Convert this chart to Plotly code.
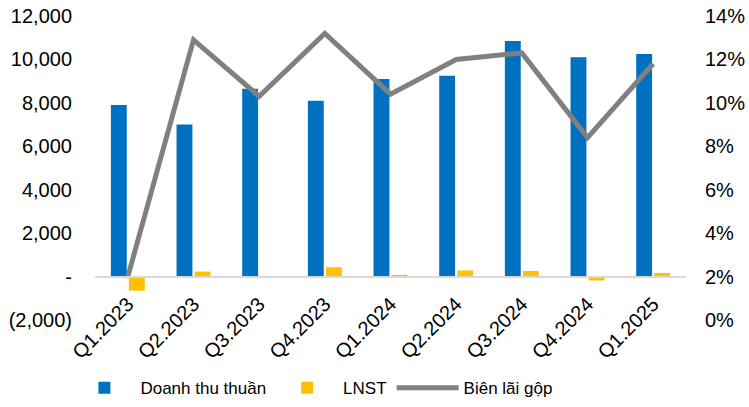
import plotly.graph_objects as go

quarters = ["Q1.2023", "Q2.2023", "Q3.2023", "Q4.2023", "Q1.2024",
            "Q2.2024", "Q3.2024", "Q4.2024", "Q1.2025"]
doanh_thu = [7900, 7000, 8650, 8100, 9100, 9250, 10850, 10100, 10250]
lnst = [-650, 230, 10, 430, 80, 280, 260, -180, 170]
bien_lai_gop = [2.0, 12.9, 10.3, 13.2, 10.4, 12.0, 12.3, 8.4, 11.8]

left_tickvals = [-2000, 0, 2000, 4000, 6000, 8000, 10000, 12000]
left_ticktext = ["(2,000)", "-", "2,000", "4,000", "6,000", "8,000", "10,000", "12,000"]
right_tickvals = [0, 2, 4, 6, 8, 10, 12, 14]
right_ticktext = ["0%", "2%", "4%", "6%", "8%", "10%", "12%", "14%"]

FONT = "Liberation Sans, Arial, sans-serif"

fig = go.Figure()
fig.add_trace(go.Bar(x=quarters, y=doanh_thu, name="Doanh thu thuần",
                     marker=dict(color="#0070C0", line=dict(width=0))))
fig.add_trace(go.Bar(x=quarters, y=lnst, name="LNST",
                     marker=dict(color="#FFC000", line=dict(width=0))))
fig.add_trace(go.Scatter(x=quarters, y=bien_lai_gop, name="Biên lãi gộp",
                         yaxis="y2", mode="lines",
                         line=dict(color="#808080", width=5)))

fig.update_layout(
    width=749, height=407,
    margin=dict(l=95, r=63, t=16, b=87, autoexpand=False),
    paper_bgcolor="white", plot_bgcolor="white",
    font=dict(family=FONT, size=20, color="#000000"),
    barmode="group", bargap=0.45, bargroupgap=0.12,
    showlegend=True,
    legend=dict(orientation="h", x=-0.045, xanchor="left", y=-0.224, yanchor="middle",
                font=dict(size=17), itemwidth=62, traceorder="normal"),
    xaxis=dict(type="category", anchor="free", position=2/14, tickangle=-45,
               showline=True, linecolor="#D9D9D9", linewidth=2, automargin=False,
               showgrid=False, ticks="", tickfont=dict(size=20), ticklabelstandoff=7),
    yaxis=dict(range=[-2000, 12000], tickvals=left_tickvals, ticktext=left_ticktext,
               showgrid=False, zeroline=False, showline=False, ticks="", automargin=False,
               tickfont=dict(size=20), ticklabelstandoff=22),
    yaxis2=dict(range=[0, 14], tickvals=right_tickvals, ticktext=right_ticktext,
                overlaying="y", side="right", showgrid=False, zeroline=False, automargin=False,
                showline=False, ticks="", tickfont=dict(size=20), ticklabelstandoff=18),
)

fig.write_html("out.html")
